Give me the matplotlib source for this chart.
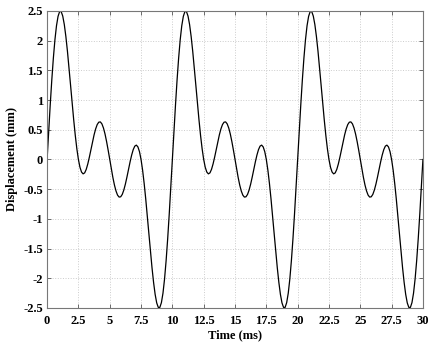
import numpy as np
import matplotlib
matplotlib.use("Agg")
import matplotlib.pyplot as plt

# displacement every 0.125 ms (0 .. 30 ms)
time_ms = np.arange(0, 30.001, 0.125)
disp_mm = [
    # 0 - 10 ms
    0, 0.468, 0.919, 1.337, 1.706, 2.014, 2.251, 2.410, 2.490, 2.490,
    2.414, 2.271, 2.069, 1.822, 1.544, 1.248, 0.951, 0.666, 0.406, 0.181,
    0, -0.132, -0.212, -0.242, -0.225, -0.166, -0.074, 0.040, 0.167, 0.295,
    0.414, 0.514, 0.588, 0.628, 0.633, 0.600, 0.530, 0.429, 0.301, 0.156,
    0, -0.156, -0.301, -0.429, -0.530, -0.600, -0.633, -0.628, -0.588, -0.514,
    -0.414, -0.295, -0.167, -0.040, 0.074, 0.166, 0.225, 0.242, 0.212, 0.132,
    0, -0.181, -0.406, -0.666, -0.951, -1.248, -1.544, -1.822, -2.069, -2.271,
    -2.414, -2.490, -2.490, -2.410, -2.251, -2.014, -1.706, -1.337, -0.919, -0.468,
    # 10 - 20 ms
    0, 0.468, 0.919, 1.337, 1.706, 2.014, 2.251, 2.410, 2.490, 2.490,
    2.414, 2.271, 2.069, 1.822, 1.544, 1.248, 0.951, 0.666, 0.406, 0.181,
    0, -0.132, -0.212, -0.242, -0.225, -0.166, -0.074, 0.040, 0.167, 0.295,
    0.414, 0.514, 0.588, 0.628, 0.633, 0.600, 0.530, 0.429, 0.301, 0.156,
    0, -0.156, -0.301, -0.429, -0.530, -0.600, -0.633, -0.628, -0.588, -0.514,
    -0.414, -0.295, -0.167, -0.040, 0.074, 0.166, 0.225, 0.242, 0.212, 0.132,
    0, -0.181, -0.406, -0.666, -0.951, -1.248, -1.544, -1.822, -2.069, -2.271,
    -2.414, -2.490, -2.490, -2.410, -2.251, -2.014, -1.706, -1.337, -0.919, -0.468,
    # 20 - 30 ms
    0, 0.468, 0.919, 1.337, 1.706, 2.014, 2.251, 2.410, 2.490, 2.490,
    2.414, 2.271, 2.069, 1.822, 1.544, 1.248, 0.951, 0.666, 0.406, 0.181,
    0, -0.132, -0.212, -0.242, -0.225, -0.166, -0.074, 0.040, 0.167, 0.295,
    0.414, 0.514, 0.588, 0.628, 0.633, 0.600, 0.530, 0.429, 0.301, 0.156,
    0, -0.156, -0.301, -0.429, -0.530, -0.600, -0.633, -0.628, -0.588, -0.514,
    -0.414, -0.295, -0.167, -0.040, 0.074, 0.166, 0.225, 0.242, 0.212, 0.132,
    0, -0.181, -0.406, -0.666, -0.951, -1.248, -1.544, -1.822, -2.069, -2.271,
    -2.414, -2.490, -2.490, -2.410, -2.251, -2.014, -1.706, -1.337, -0.919, -0.468,
    0,
]
xticks = [0, 2.5, 5, 7.5, 10, 12.5, 15, 17.5, 20, 22.5, 25, 27.5, 30]
yticks = [-2.5, -2, -1.5, -1, -0.5, 0, 0.5, 1, 1.5, 2, 2.5]

plt.rcParams['font.family'] = ['Liberation Serif', 'DejaVu Serif']
plt.rcParams['font.weight'] = 'bold'

fig = plt.figure(figsize=(4.36, 3.49), dpi=100)
ax = fig.add_axes([0.108, 0.1175, 0.862, 0.851])

ax.plot(time_ms, disp_mm, color="black", linewidth=0.9)

ax.set_xlim(0, 30)
ax.set_ylim(-2.5, 2.5)
ax.set_xticks(xticks)
ax.set_xticklabels([f"{t:g}" for t in xticks])
ax.set_yticks(yticks)
ax.set_yticklabels([f"{v:g}" for v in yticks])
ax.tick_params(direction="in", top=True, right=True, length=3, width=0.6,
               color="#555555", labelsize=9)
ax.tick_params(axis="x", pad=5)
ax.tick_params(axis="y", pad=3)
for s in ax.spines.values():
    s.set_color("#777777")
    s.set_linewidth(0.8)
ax.grid(True, linestyle=":", color="#cccccc", linewidth=0.7)

ax.set_xlabel("Time (ms)", fontsize=9, fontweight="bold", labelpad=2)
ax.set_ylabel("Displacement (mm)", fontsize=9, fontweight="bold", labelpad=4)

fig.savefig("out.png", dpi=100)
